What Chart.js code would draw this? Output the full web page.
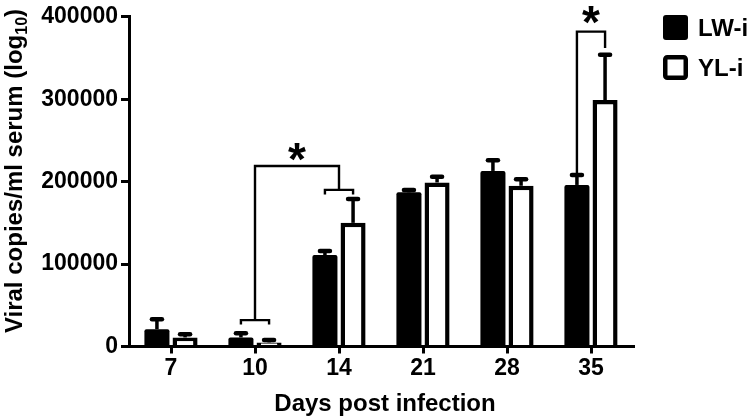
<!DOCTYPE html>
<html lang="en">
<head>
<meta charset="UTF-8">
<title>Viral copies post infection</title>
<script src="https://cdn.jsdelivr.net/npm/chart.js"></script>
<style>
  html, body { margin: 0; padding: 0; background: #fff; }
</style>
</head>
<body>
<canvas id="viralChart" width="750" height="418"></canvas>
<script>
// values
const days = ['7', '10', '14', '21', '28', '35'];
const lwMeans  = [21000, 11000, 111000, 187000, 213000, 196000];
const lwErrors = [12000, 5000, 5000, 3000, 13000, 12000];
const ylMeans  = [11000, 5000, 150000, 199000, 195000, 299000];
const ylErrors = [4000, 3000, 29000, 7000, 8000, 55000];
const yTicks = [0, 100000, 200000, 300000, 400000];
const seriesNames = ['LW-i', 'YL-i'];

// significance brackets: ends are a whole group (set omitted) or one bar
const brackets = [
    { left: { cat: 1, base: 32000 }, right: { cat: 2, base: 190000 }, top: 219000, star: 231000 },
    { left: { cat: 5, set: 0, base: 208000 }, right: { cat: 5, set: 1, base: 362000 }, top: 382000, star: 397000 }
];

const FONT = '"Liberation Sans", Arial, sans-serif';
Chart.defaults.font.family = FONT;
Chart.defaults.font.weight = 'bold';
Chart.defaults.color = '#000';

function barX(chart, cat, set) {
    return chart.getDatasetMeta(set).data[cat].x;
}

const extras = {
    id: 'extras',
    afterDatasetsDraw(chart) {
        const ctx = chart.ctx;
        const y = chart.scales.y;
        const errs = [lwErrors, ylErrors];
        const means = [lwMeans, ylMeans];
        ctx.save();
        ctx.strokeStyle = '#000';
        // error bars (upper only)
        [0, 1].forEach(set => {
            chart.getDatasetMeta(set).data.forEach((bar, i) => {
                const top = y.getPixelForValue(means[set][i] + errs[set][i]);
                ctx.lineCap = 'butt';
                ctx.lineWidth = 3.5;
                ctx.beginPath();
                ctx.moveTo(bar.x, bar.y);
                ctx.lineTo(bar.x, top + 1);
                ctx.stroke();
                ctx.lineCap = 'round';
                ctx.lineWidth = 4.5;
                ctx.beginPath();
                ctx.moveTo(bar.x - 5, top);
                ctx.lineTo(bar.x + 5, top);
                ctx.stroke();
            });
        });
        // brackets
        ctx.lineCap = 'butt';
        ctx.lineWidth = 2.4;
        brackets.forEach(b => {
            const ends = [b.left, b.right].map(e => {
                const by = y.getPixelForValue(e.base);
                if (e.set === undefined) {
                    const x0 = barX(chart, e.cat, 0), x1 = barX(chart, e.cat, 1);
                    ctx.beginPath();
                    ctx.moveTo(x0, by + 4.5);
                    ctx.lineTo(x0, by);
                    ctx.lineTo(x1, by);
                    ctx.lineTo(x1, by + 4.5);
                    ctx.stroke();
                    return { x: (x0 + x1) / 2, y: by };
                }
                return { x: barX(chart, e.cat, e.set), y: by };
            });
            const ty = y.getPixelForValue(b.top);
            ctx.beginPath();
            ctx.moveTo(ends[0].x, ends[0].y);
            ctx.lineTo(ends[0].x, ty);
            ctx.lineTo(ends[1].x, ty);
            ctx.lineTo(ends[1].x, ends[1].y);
            ctx.stroke();
            ctx.fillStyle = '#000';
            ctx.font = 'bold 46px ' + FONT;
            ctx.textAlign = 'center';
            ctx.textBaseline = 'alphabetic';
            ctx.fillText('*', (ends[0].x + ends[1].x) / 2, y.getPixelForValue(b.star) + 19);
        });
        ctx.restore();
    },
    afterDraw(chart) {
        const ctx = chart.ctx;
        ctx.save();
        ctx.fillStyle = '#000';
        // legend
        ctx.font = 'bold 24px ' + FONT;
        ctx.textAlign = 'left';
        ctx.textBaseline = 'alphabetic';
        ctx.beginPath();
        ctx.roundRect(663, 15, 25, 25, 3);
        ctx.fill();
        ctx.fillText(seriesNames[0], 698, 36);
        ctx.lineWidth = 4.5;
        ctx.strokeStyle = '#000';
        ctx.beginPath();
        ctx.roundRect(665.25, 57.25, 20.5, 20.5, 2);
        ctx.stroke();
        ctx.fillText(seriesNames[1], 698, 76);
        // x title
        ctx.textAlign = 'center';
        ctx.fillText('Days post infection', 385, 411);
        // y title with subscript
        ctx.translate(22, 171);
        ctx.rotate(-Math.PI / 2);
        const main = 'Viral copies/ml serum (log';
        ctx.font = 'bold 24px ' + FONT;
        const w1 = ctx.measureText(main).width;
        const w3 = ctx.measureText(')').width;
        ctx.font = 'bold 16px ' + FONT;
        const w2 = ctx.measureText('10').width;
        let x = -(w1 + w2 + w3) / 2;
        ctx.textAlign = 'left';
        ctx.font = 'bold 24px ' + FONT;
        ctx.fillText(main, x, 0);
        x += w1;
        ctx.font = 'bold 16px ' + FONT;
        ctx.fillText('10', x, 5);
        x += w2;
        ctx.font = 'bold 24px ' + FONT;
        ctx.fillText(')', x, 0);
        ctx.restore();
    }
};

new Chart(document.getElementById('viralChart'), {
    type: 'bar',
    data: {
        labels: days,
        datasets: [
            {
                label: seriesNames[0],
                data: lwMeans,
                backgroundColor: '#000',
                borderWidth: 0,
                borderRadius: 2,
                categoryPercentage: 0.67,
                barPercentage: 0.89
            },
            {
                label: seriesNames[1],
                data: ylMeans,
                backgroundColor: '#fff',
                borderColor: '#000',
                borderWidth: 4.5,
                categoryPercentage: 0.67,
                barPercentage: 0.89
            }
        ]
    },
    options: {
        responsive: false,
        devicePixelRatio: 1,
        animation: false,
        layout: { padding: { top: 10, right: 117, left: 0, bottom: 0 } },
        plugins: { legend: { display: false }, tooltip: { enabled: false } },
        scales: {
            x: {
                afterFit: s => { s.height = 71.5; },
                border: { display: true, color: '#000', width: 3 },
                grid: { offset: false, drawOnChartArea: false, drawTicks: true, tickLength: 7, color: '#000', lineWidth: 3 },
                ticks: { font: { size: 23, weight: 'bold' }, padding: 1, color: '#000' }
            },
            y: {
                min: 0,
                max: 400000,
                afterFit: s => { s.width = 129; },
                afterBuildTicks: s => { s.ticks = yTicks.map(v => ({ value: v })); },
                border: { display: true, color: '#000', width: 3 },
                grid: { drawOnChartArea: false, drawTicks: true, tickLength: 8, color: '#000', lineWidth: 3 },
                ticks: { font: { size: 23, weight: 'bold' }, padding: 3, color: '#000', callback: v => String(v) }
            }
        }
    },
    plugins: [extras]
});
</script>
</body>
</html>
